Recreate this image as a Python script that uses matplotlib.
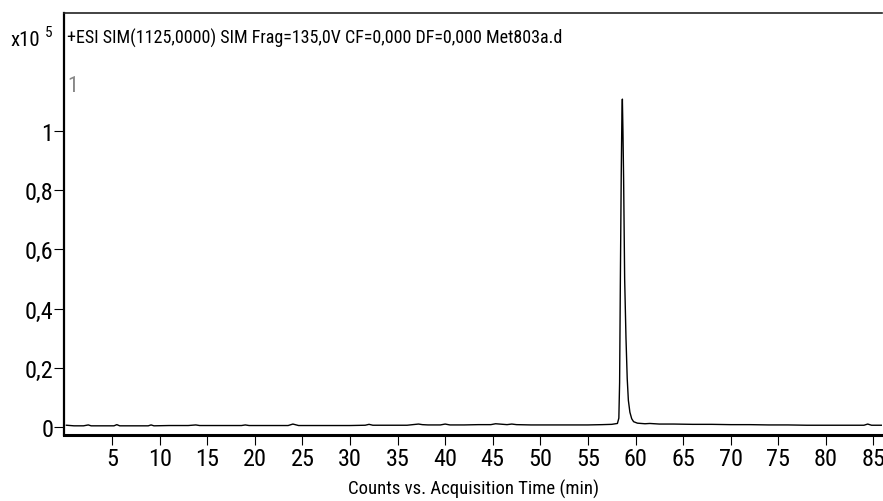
import matplotlib
matplotlib.use('Agg')
import matplotlib.pyplot as plt
from matplotlib import font_manager

# condensed sans, close to the narrow font of the instrument software
names = {f.name for f in font_manager.fontManager.ttflist}
main_font = 'Roboto Condensed' if 'Roboto Condensed' in names else 'Liberation Sans'
plt.rcParams['font.family'] = [main_font, 'DejaVu Sans']

# chromatogram (time in min, counts in x10^5)
time_min = [0.2, 1.0, 2.0, 2.5, 2.8, 4.0, 5.2, 5.5, 5.8, 7.0, 8.8, 9.1, 9.4, 11.0, 13.0, 13.8, 14.2,
            16.0, 18.6, 19.0, 19.4, 21.0, 23.5, 24.0, 24.6, 26.0, 28.0, 30.0, 31.6, 32.0, 32.4,
            34.0, 36.0, 37.2, 37.6, 38.2, 39.5, 40.0, 40.5, 42.0, 43.5, 44.8, 45.3, 46.5, 47.0,
            47.5, 49.0, 51.0, 53.0, 55.0, 56.5, 57.5, 58.1, 58.25, 58.33, 58.41, 58.5, 58.57,
            58.62, 58.68, 58.75, 58.86, 59.0, 59.13, 59.25, 59.41, 59.6, 59.8, 60.2, 61.0, 61.5,
            62.5, 64.0, 66.0, 68.0, 70.0, 72.0, 74.0, 76.0, 78.0, 80.0, 82.0, 84.0, 84.4, 84.8,
            85.5, 86.0]
counts = [0.006, 0.004, 0.004, 0.007, 0.004, 0.004, 0.004, 0.008, 0.004, 0.004, 0.004, 0.007, 0.004,
          0.005, 0.005, 0.007, 0.005, 0.005, 0.005, 0.007, 0.005, 0.005, 0.005, 0.010, 0.005,
          0.005, 0.005, 0.005, 0.006, 0.009, 0.006, 0.006, 0.006, 0.010, 0.008, 0.007, 0.007,
          0.010, 0.007, 0.007, 0.008, 0.008, 0.011, 0.008, 0.010, 0.008, 0.007, 0.007, 0.007,
          0.007, 0.008, 0.009, 0.012, 0.03, 0.15, 0.50, 0.85, 1.05,
          1.108, 1.00, 0.84, 0.50, 0.30, 0.163, 0.09, 0.05, 0.028, 0.018, 0.013, 0.011, 0.012,
          0.010, 0.010, 0.009, 0.009, 0.008, 0.008, 0.007, 0.007, 0.006, 0.006, 0.006, 0.006,
          0.010, 0.006, 0.006, 0.006]

x_ticks = [5, 10, 15, 20, 25, 30, 35, 40, 45, 50, 55, 60, 65, 70, 75, 80, 85]
y_ticks = [0, 0.2, 0.4, 0.6, 0.8, 1.0]
y_labels = ['0', '0,2', '0,4', '0,6', '0,8', '1']

fig = plt.figure(figsize=(8.83, 5.02), dpi=100)
ax = fig.add_axes([64 / 883, 66 / 502, 818 / 883, 422 / 502])

ax.plot(time_min, counts, color='black', lw=1.0)

ax.set_xlim(-0.05, 85.9)
ax.set_ylim(-0.027, 1.399)
ax.set_xticks(x_ticks)
ax.set_xticklabels([str(t) for t in x_ticks])
ax.set_yticks(y_ticks)
ax.set_yticklabels(y_labels)
ax.tick_params(labelsize=17.5, length=7, width=0.8, direction='out')
ax.tick_params(axis='x', pad=1.5)
ax.tick_params(axis='y', pad=0.5)

ax.spines['right'].set_visible(False)
ax.spines['top'].set_linewidth(1.2)
ax.spines['top'].set_color('#222222')
ax.spines['left'].set_linewidth(1.6)
ax.spines['bottom'].set_linewidth(2.2)

ax.set_xlabel('Counts vs. Acquisition Time (min)', fontsize=13.5)
ax.xaxis.set_label_coords(0.5, -0.104)

ax.text(0.004, 0.941, '+ESI SIM(1125,0000) SIM Frag=135,0V CF=0,000 DF=0,000 Met803a.d',
        transform=ax.transAxes, fontsize=13, va='center', ha='left')
ax.text(0.004, 0.829, '1', transform=ax.transAxes, fontsize=16, color='#888888',
        va='center', ha='left')
fig.text(10 / 883, 1 - 40 / 502, 'x10', fontsize=15, va='center', ha='left')
fig.text(45 / 883, 1 - 33 / 502, '5', fontsize=11, va='center', ha='left')

fig.savefig('out.png', dpi=100)
